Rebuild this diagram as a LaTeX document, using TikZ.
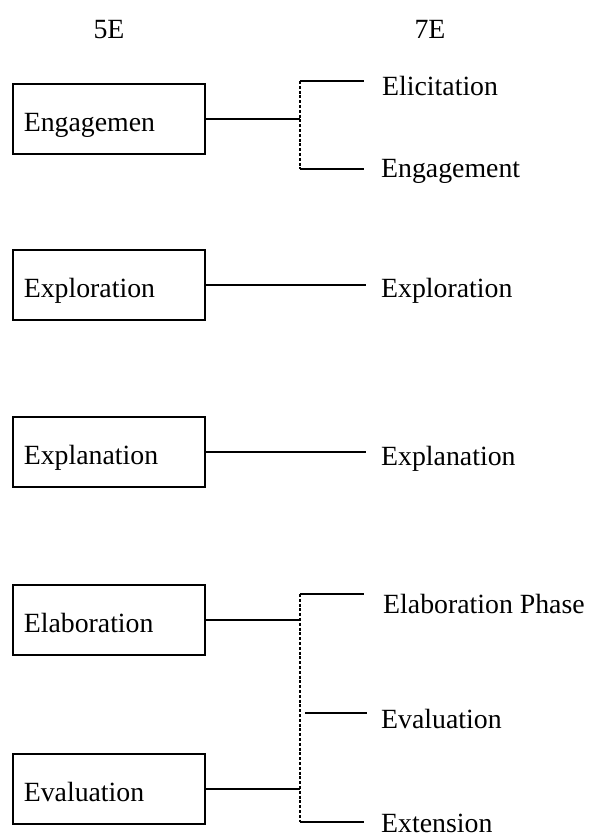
\documentclass[tikz,border=0pt]{standalone}
\usepackage{fontspec}
\setmainfont{Liberation Serif}
\begin{document}
\begin{tikzpicture}[x=1pt,y=-1pt,
  txt/.style={font=\fontsize{27.8}{32}\selectfont},
  box/.style={txt,draw,line width=1.6pt,minimum width=192pt,minimum height=70pt,
    inner xsep=11pt,text width=170pt,align=left,text height=25pt,text depth=0pt,anchor=west},
  lbl/.style={txt,anchor=base west,inner sep=0pt},
  hdr/.style={txt,anchor=base,inner sep=0pt},
  ln/.style={line width=1.6pt},
  dl/.style={line width=1.4pt,dash pattern=on 3pt off 1.8pt}]
\useasboundingbox (0,0) rectangle (589,839);

% headers
\node[hdr] (h5) at (109,38) {5E};
\node[hdr] (h7) at (430,38) {7E};

% boxes
\node[box] (b1) at (12,119) {Engagemen};
\node[box] (b2) at (12,285) {Exploration};
\node[box] (b3) at (12,452) {Explanation};
\node[box] (b4) at (12,620) {Elaboration};
\node[box] (b5) at (12,789) {Evaluation};

% right labels
\node[lbl] (r1) at (382,95) {Elicitation};
\node[lbl] (r2) at (381,177) {Engagement};
\node[lbl] (r3) at (381,297) {Exploration};
\node[lbl] (r4) at (381,465) {Explanation};
\node[lbl] (r5) at (383,613) {Elaboration Phase};
\node[lbl] (r6) at (381,728) {Evaluation};
\node[lbl] (r7) at (381,832) {Extension};

% block 1
\coordinate (j1) at (300,119);
\coordinate (t1) at (300,81);
\coordinate (t1e) at (364,81);
\coordinate (u1) at (300,169);
\coordinate (u1e) at (364,169);
\draw[ln] (b1.east) -- (j1);
\draw[dl] (t1) -- (u1);
\draw[ln] (t1) -- (t1e);
\draw[ln] (u1) -- (u1e);

% block 2 and 3
\coordinate (e2) at (366,285);
\coordinate (e3) at (366,452);
\draw[ln] (b2.east) -- (e2);
\draw[ln] (b3.east) -- (e3);

% block 4/5
\coordinate (j4) at (300,620);
\coordinate (j5) at (300,789);
\coordinate (t4) at (300,594);
\coordinate (t4e) at (364,594);
\coordinate (m4) at (305,713);
\coordinate (m4e) at (367,713);
\coordinate (u4) at (300,822);
\coordinate (u4e) at (364,822);
\draw[ln] (b4.east) -- (j4);
\draw[ln] (b5.east) -- (j5);
\draw[dl] (t4) -- (u4);
\draw[ln] (t4) -- (t4e);
\draw[ln] (m4) -- (m4e);
\draw[ln] (u4) -- (u4e);
\end{tikzpicture}
\end{document}
